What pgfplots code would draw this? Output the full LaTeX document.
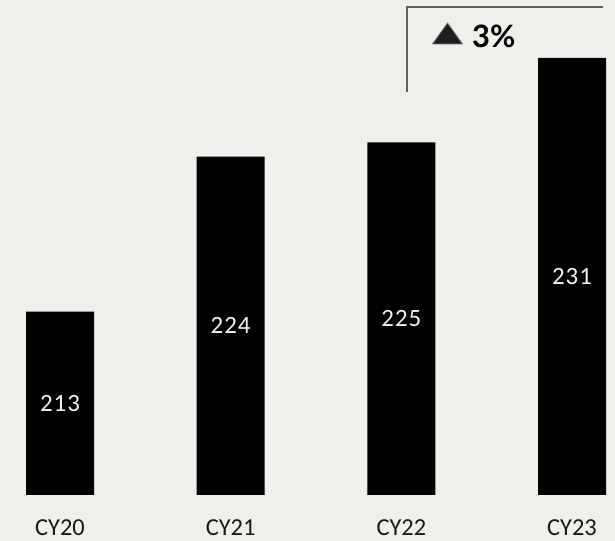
\documentclass[border=0pt]{standalone}
\usepackage{pgfplots}
\pgfplotsset{compat=1.18}
\usepackage{fontspec}
\setmainfont{Carlito}
\newfontfamily\valfont[LetterSpace=4]{Carlito}
\newfontfamily\latofont{Lato}
\definecolor{bg}{HTML}{F0EFEB}
\definecolor{brk}{HTML}{606060}
\begin{document}
\begin{tikzpicture}
\fill[bg] (0,0) rectangle (615bp,541bp);
\begin{axis}[name=ax, at={(0,46bp)}, anchor=south west,
  scale only axis, width=615bp, height=495bp,
  xmin=-0.3516, xmax=3.252, ymin=200, ymax=235.1,
  hide axis, clip=false, ybar, bar width=68bp]
\addplot[fill=black, draw=none] coordinates {(0,213) (1,224) (2,225) (3,231)};
\foreach \i/\v/\m in {0/213/206.5, 1/224/212, 2/225/212.5, 3/231/215.5}{
  \edef\tmp{\noexpand\node[text=white!95!black, inner sep=0, font=\noexpand\valfont\noexpand\fontsize{25}{28}\noexpand\selectfont] at (axis cs:\i,\m) {\v};}
  \tmp
}
\foreach \i/\c in {0/CY20, 1/CY21, 2/CY22, 3/CY23}{
  \edef\tmp{\noexpand\node[text=black!90, inner sep=0, font=\noexpand\fontsize{24.5}{28}\noexpand\selectfont, anchor=center] at ([yshift=-33bp]axis cs:\i,200) {\c};}
  \tmp
}
\end{axis}
\draw[brk, line width=2bp] (407bp,449bp) -- (407bp,534bp) -- (603bp,534bp);
\filldraw[fill=black!88, draw=black!55, line width=0.8bp] (432.5bp,497bp) -- (462.5bp,497bp) -- (447.5bp,518bp) -- cycle;
\node[anchor=west, inner sep=0, font=\latofont\bfseries\fontsize{31}{34}\selectfont] at (472bp,504.5bp) {3\%};
\pgfresetboundingbox
\path[use as bounding box] (0,0) rectangle (615bp,541bp);
\end{tikzpicture}
\end{document}
